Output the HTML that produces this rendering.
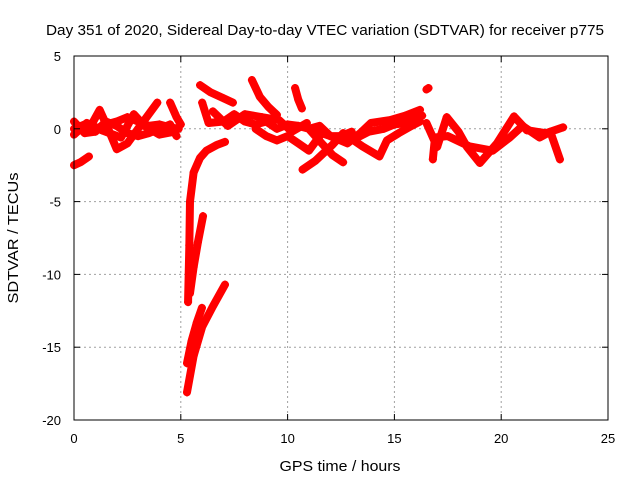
<!DOCTYPE html>
<html><head><meta charset="utf-8"><style>
body{margin:0;background:#fff}
svg{display:block;font-family:"Liberation Sans",sans-serif}
</style></head><body>
<svg id="chart" width="640" height="480">
<text x="325" y="35" font-size="14.5" text-anchor="middle" textLength="558" lengthAdjust="spacingAndGlyphs">Day 351 of 2020, Sidereal Day-to-day VTEC variation (SDTVAR) for receiver p775</text>
<g id="grid"></g><g id="marks"></g><g id="axes"></g>
<text x="340" y="471" font-size="14.5" text-anchor="middle" textLength="121" lengthAdjust="spacingAndGlyphs">GPS time / hours</text>
<text transform="translate(18,238) rotate(-90)" font-size="14.5" text-anchor="middle" textLength="131" lengthAdjust="spacingAndGlyphs">SDTVAR / TECUs</text>
</svg>
<script>
const xTicks=[0,5,10,15,20,25];
const yTicks=[5,0,-5,-10,-15,-20];
const trackEarly=[[0,-2.5],[0.3,-2.3],[0.7,-1.9]];
const trackBandA=[[0,0],[0.5,0.3],[1,0],[1.5,0.3],[2,0.5],[2.5,0.8],[3,0.5],[3.5,0.2],[4,0.3],[4.5,0.1],[4.9,0]];
const trackBandB=[[0.9,0.5],[1.2,1.3],[1.6,0],[2.0,-1.4],[2.5,-1],[3,0],[3.5,1],[3.9,1.8]];
const trackBandC=[[0,0.5],[0.5,-0.3],[1,-0.2],[1.5,0.5],[2,0.2],[2.5,-0.3],[3,-0.5],[3.5,-0.3],[4,0],[4.5,0.3],[4.8,-0.5]];
const trackBandD=[[4.5,1.8],[4.8,0.8],[5.0,0.3]];
const trackBandE=[[0,-0.4],[0.6,0.4],[1.3,-0.1],[2.2,-0.6],[2.8,1.0],[3.3,0.2],[4.0,-0.4],[4.7,-0.2]];
const crashA=[[5.29,-18.1],[5.6,-15.6],[6.0,-13.6],[6.5,-12.2],[7.07,-10.7]];
const crashB=[[5.29,-16.1],[5.5,-14.6],[5.75,-13.3],[5.99,-12.3]];
const crashC=[[5.34,-11.9],[5.4,-8],[5.43,-5],[5.6,-3],[5.9,-2],[6.2,-1.5],[6.7,-1.1],[7.07,-0.9]];
const crashD=[[5.43,-11.3],[5.6,-9.5],[5.8,-7.8],[6.04,-6.0]];
const upperA=[[5.9,3.0],[6.4,2.5],[7.0,2.1],[7.44,1.8]];
const upperB=[[8.33,3.35],[8.7,2.2],[9.1,1.5],[9.5,0.95]];
const upperC=[[10.35,2.8],[10.5,2.0],[10.67,1.4]];
const midA=[[6.0,1.8],[6.3,0.4],[7,0.5],[7.5,1.0],[8,0.5],[8.5,0.3],[9,0.5],[9.5,0.0],[10,0.3],[10.5,0.2],[11,0.0],[11.5,0.2],[12,-0.5],[12.5,-0.5],[13,-0.2]];
const midB=[[8.5,0],[9,-0.5],[9.5,-0.8],[10,-0.5],[10.5,-1.0],[11,-1.5],[11.5,-0.5]];
const midC=[[6.5,1.2],[7.2,0.2],[8.0,1.0],[8.8,0.8],[9.6,0.6],[10.2,-0.2],[10.9,0.4]];
const crossA=[[11.05,-0.1],[11.6,-1.0],[12.1,-1.8],[12.6,-2.3]];
const crossB=[[10.7,-2.8],[11.3,-2.2],[12.1,-1.1],[12.6,-0.3]];
const bandE=[[11.2,-0.1],[12.0,-0.5],[12.8,-1.0],[13.4,-0.3],[13.9,0.4],[14.8,0.6],[15.5,0.9],[16.2,1.3]];
const bandF=[[12.8,-0.5],[13.5,-1.2],[14.3,-1.9],[14.65,-0.8],[15.2,-0.3],[15.8,0.2],[16.2,0.5]];
const bandF2=[[13.0,-0.8],[13.8,-0.2],[14.5,0.0],[15.0,0.3],[15.6,0.4],[16.3,0.9]];
const spike=[[16.5,2.7],[16.6,2.8]];
const bandG=[[16.5,0.4],[17.0,-1.25],[17.45,0.8],[18.0,-0.2],[18.4,-1.25],[19.0,-2.35],[19.8,-1.0],[20.6,0.85],[21.2,-0.1],[22.1,-0.3],[22.9,0.1]];
const bandH=[[16.8,-2.1],[16.9,-0.6],[17.5,-0.5],[18.5,-1.2],[19.6,-1.5],[20.4,-0.6],[21.0,0.2],[21.8,-0.6],[22.3,-0.2],[22.75,-2.1]];
const tracks=[trackEarly,trackBandA,trackBandB,trackBandC,trackBandD,trackBandE,crashA,crashB,crashC,crashD,upperA,upperB,upperC,midA,midB,midC,crossA,crossB,bandE,bandF,bandF2,spike,bandG,bandH];
const X0=74,X1=608,Y0=420,Y1=56;
const xs=t=>X0+(t-0)/25*(X1-X0);
const ys=v=>Y0-(v+20)/25*(Y0-Y1);
const NS="http://www.w3.org/2000/svg";
function mk(tag,attrs,parent){const e=document.createElementNS(NS,tag);for(const k in attrs)e.setAttribute(k,attrs[k]);parent.appendChild(e);return e;}
const grid=document.getElementById('grid'),axes=document.getElementById('axes'),marks=document.getElementById('marks');
xTicks.forEach(t=>{
 if(t>0&&t<25){const g=mk('line',{x1:xs(t),x2:xs(t),y1:Y1,y2:Y0,stroke:'#a0a0a0','stroke-dasharray':'2,3'},grid);
 
 }
 const l=mk('text',{x:xs(t),y:Y0+23,'font-size':13,'text-anchor':'middle'},axes);l.textContent=t;
 
 
 mk('line',{x1:xs(t),x2:xs(t),y1:Y0,y2:Y0-6,stroke:'#000'},axes);
 mk('line',{x1:xs(t),x2:xs(t),y1:Y1,y2:Y1+6,stroke:'#000'},axes);
});
yTicks.forEach(v=>{
 if(v>-20&&v<5){const g=mk('line',{x1:X0,x2:X1,y1:ys(v),y2:ys(v),stroke:'#a0a0a0','stroke-dasharray':'2,3'},grid);
 
 }
 const l=mk('text',{x:X0-13,y:ys(v)+5,'font-size':13,'text-anchor':'end'},axes);l.textContent=v;
 
 
 mk('line',{x1:X0,x2:X0+6,y1:ys(v),y2:ys(v),stroke:'#000'},axes);
 mk('line',{x1:X1,x2:X1-6,y1:ys(v),y2:ys(v),stroke:'#000'},axes);
});
const border=mk('rect',{x:X0,y:Y1,width:X1-X0,height:Y0-Y1,fill:'none',stroke:'#000'},axes);


tracks.forEach(tr=>{
 const p=mk('polyline',{points:tr.map(d=>xs(d[0])+','+ys(d[1])).join(' '),fill:'none',stroke:'#f00','stroke-width':8,'stroke-linejoin':'round','stroke-linecap':'round'},marks);
 
 
 tr.forEach(d=>{
  const m=mk('path',{d:`M${xs(d[0])-4},${ys(d[1])}h8M${xs(d[0])},${ys(d[1])-4}v8`,stroke:'#f00','stroke-width':1.5},marks);
  
  
 });
});
</script>
</body></html>
